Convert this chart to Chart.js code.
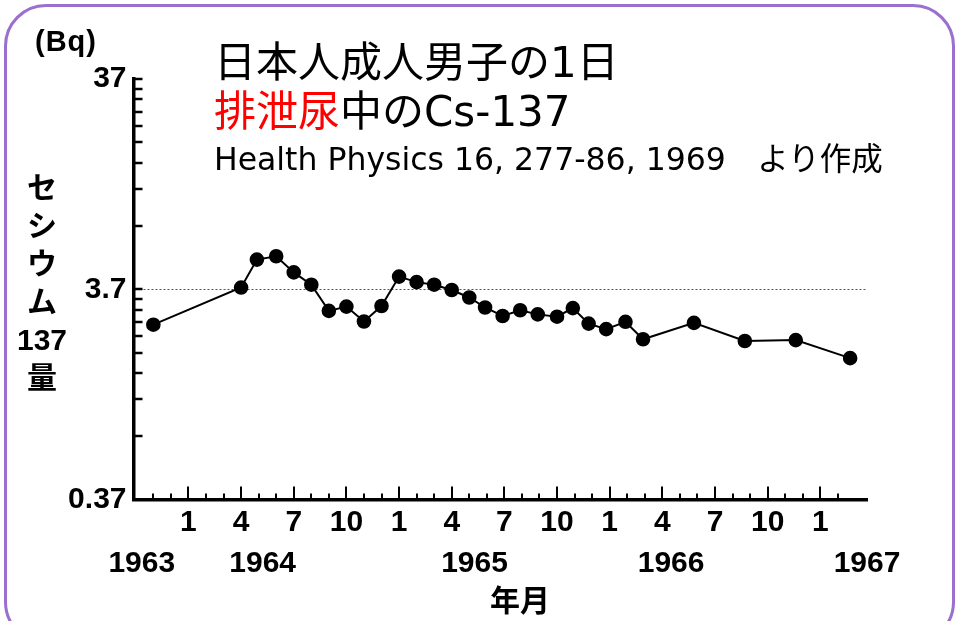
<!DOCTYPE html>
<html lang="ja">
<head>
<meta charset="utf-8">
<title>日本人成人男子の1日排泄尿中のCs-137</title>
<script src="https://cdn.jsdelivr.net/npm/chart.js@4.4.1/dist/chart.umd.min.js"></script>
<style>
  html, body { margin: 0; padding: 0; background: #fff; overflow: hidden; }
  .slide { position: relative; width: 956px; height: 621px; overflow: hidden; }
  .frame {
    position: absolute; left: 4px; top: 4px; width: 951px; height: 640px;
    border: 3px solid #9a6fcf; border-radius: 42px; box-sizing: border-box;
  }
  canvas { position: absolute; left: 0; top: 0; }
  .txt { position: absolute; white-space: nowrap; color: #000; }
  .title { left: 214px; font-family: "DejaVu Sans", "Noto Sans CJK JP", sans-serif; font-size: 42px; line-height: 50px; }
  .t1 { top: 38px; }
  .t2 { top: 87px; }
  .t2 .red { color: #ff0000; }
  .t3 { top: 139px; font-size: 31.5px; line-height: 40px; }
  .unit { left: 35px; top: 25px; font: bold 29px "Liberation Sans", Arial, sans-serif; letter-spacing: 1px; }
  .ytitle {
    left: 12px; top: 169px; width: 60px; text-align: center;
    font: bold 30px "Liberation Sans", "Noto Sans CJK JP", sans-serif; line-height: 38px;
  }
  .xtitle { left: 490px; top: 580px; font: bold 30px "Noto Sans CJK JP", sans-serif; line-height: 36px; }
</style>
</head>
<body>
<div class="slide">
  <div class="frame"></div>
  <canvas id="chart" width="956" height="621"></canvas>
  <div class="txt unit">(Bq)</div>
  <div class="txt title t1">日本人成人男子の1日</div>
  <div class="txt title t2"><span class="red">排泄尿</span>中のCs-137</div>
  <div class="txt title t3">Health Physics 16, 277-86, 1969　より作成</div>
  <div class="txt ytitle">セ<br>シ<br>ウ<br>ム<br>137<br>量</div>
  <div class="txt xtitle">年月</div>
</div>
<script>
// months counted from January 1964 (0 = 1964年1月)
const monthIdx = [-2.0, 3.0, 3.9, 5.0, 6.0, 7.0, 8.0, 9.0, 10.0, 11.0, 12.0, 13.0, 14.0, 15.0, 16.0,
  16.9, 17.9, 18.9, 19.9, 21.0, 21.9, 22.8, 23.8, 24.9, 25.9, 28.8, 31.7, 34.6, 37.7];
// Cs-137 in daily urine (Bq)
const cs137 = [2.51, 3.77, 5.12, 5.31, 4.45, 3.89, 2.92, 3.06, 2.60, 3.08, 4.25, 4.00, 3.89, 3.67, 3.38,
  3.03, 2.76, 2.94, 2.81, 2.74, 3.01, 2.54, 2.39, 2.59, 2.14, 2.56, 2.10, 2.12, 1.74];

const xMin = -3.13, xMax = 38.66;
const monthLabels = ['1', '', '', '4', '', '', '7', '', '', '10', '', ''];
const yearLabels = ['1963', '1964', '1965', '1966', '1967'];
const yearTickAt = [-2.66, 4.23, 16.3, 27.5, 38.66];
const yDecades = [0.37, 3.7];
const yLabelVals = [0.37, 3.7, 37];
const yLabelText = ['0.37', '3.7', '37'];
const refLevel = 3.7;

const yTickVals = [];
yDecades.forEach(b => { for (let k = 1; k <= 9; k++) yTickVals.push(+(b * k).toFixed(4)); });
yTickVals.push(37);

const near = (a, b) => Math.abs(a - b) < 1e-6;

// tick marks point into the plot, long ones every 3 months
const inwardTicks = {
  id: 'inwardTicks',
  afterDraw(chart) {
    const { ctx, chartArea: a } = chart;
    const x = chart.scales.x, y = chart.scales.y;
    ctx.save();
    ctx.strokeStyle = '#000';
    ctx.lineWidth = 2;
    ctx.beginPath();
    x.ticks.forEach(t => {
      const px = Math.round(x.getPixelForValue(t.value));
      if (px < a.left + 4) return;
      const len = t.value % 3 === 0 ? 13 : 6;
      ctx.moveTo(px, a.bottom);
      ctx.lineTo(px, a.bottom - len);
    });
    ctx.stroke();
    ctx.lineWidth = 2.5;
    ctx.beginPath();
    y.ticks.forEach(t => {
      const py = Math.round(y.getPixelForValue(t.value));
      if (py > a.bottom - 3) return;
      ctx.moveTo(a.left, py);
      ctx.lineTo(a.left + 9, py);
    });
    ctx.stroke();
    ctx.restore();
  }
};

Chart.defaults.font.family = '"Liberation Sans", Arial, sans-serif';
Chart.defaults.color = '#000';

new Chart(document.getElementById('chart'), {
  type: 'line',
  data: {
    datasets: [{
      data: monthIdx.map((m, i) => ({ x: m, y: cs137[i] })),
      borderColor: '#000',
      borderWidth: 2,
      backgroundColor: '#000',
      pointBackgroundColor: '#000',
      pointBorderColor: '#000',
      pointRadius: 6.3,
      tension: 0,
      fill: false
    }]
  },
  options: {
    responsive: false,
    animation: false,
    layout: { padding: { top: 79, right: 89, bottom: 0, left: 0 } },
    plugins: { legend: { display: false }, tooltip: { enabled: false } },
    scales: {
      x: {
        type: 'linear', position: 'bottom', min: xMin, max: xMax, weight: 0,
        afterFit: s => { s.height = 43; },
        afterBuildTicks: s => { s.ticks = s.ticks.filter(t => Number.isInteger(t.value)); },
        grid: { display: false, drawTicks: false },
        border: { display: true, color: '#000', width: 3.5 },
        ticks: {
          stepSize: 1, autoSkip: false, maxRotation: 0, padding: 5,
          font: { size: 30, weight: 'bold' },
          callback: v => monthLabels[((v % 12) + 12) % 12]
        }
      },
      x2: {
        type: 'linear', position: 'bottom', min: xMin, max: xMax, weight: 1,
        afterFit: s => { s.height = 78.5; },
        afterBuildTicks: s => { s.ticks = yearTickAt.map(v => ({ value: v })); },
        grid: { display: false, drawTicks: false },
        border: { display: false },
        ticks: {
          autoSkip: false, maxRotation: 0, padding: 3,
          font: { size: 30, weight: 'bold' },
          callback: (v, i) => yearLabels[i]
        }
      },
      y: {
        type: 'logarithmic', position: 'left', min: 0.37, max: 37,
        afterFit: s => { s.width = 133.5; },
        afterBuildTicks: s => { s.ticks = yTickVals.map(v => ({ value: v })); },
        grid: {
          drawTicks: false, lineWidth: 1,
          color: c => (c.tick && near(c.tick.value, refLevel)) ? '#555' : 'rgba(0,0,0,0)'
        },
        border: { display: true, color: '#000', width: 3.5, dash: [2, 2] },
        ticks: {
          autoSkip: false, padding: 7,
          font: { size: 30, weight: 'bold' },
          callback: v => {
            const i = yLabelVals.findIndex(l => near(l, v));
            return i >= 0 ? yLabelText[i] : '';
          }
        }
      }
    }
  },
  plugins: [inwardTicks]
});
</script>
</body>
</html>
